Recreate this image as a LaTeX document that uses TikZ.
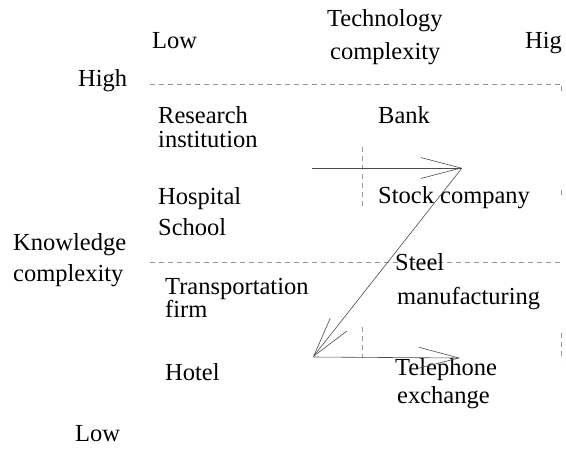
\documentclass[tikz,border=0pt]{standalone}
\usepackage{fontspec}
\setmainfont{Liberation Serif}
\usetikzlibrary{arrows.meta}
\begin{document}
\begin{tikzpicture}[x=1pt,y=-1pt,
  lbl/.style={anchor=base west,inner sep=0pt,font=\fontsize{24.5}{30}\selectfont},
  gridline/.style={draw=black!40,line width=0.6pt,dash pattern=on 5pt off 4pt},
  flow/.style={draw=black!70,line width=0.6pt,
    -{Straight Barb[length=40pt,width=21pt,line width=0.6pt]}}]
\useasboundingbox (0,0) rectangle (566,451);

% axis labels
\node[lbl] (tech1) at (327,26) {Technology};
\node[lbl] (tech2) at (330,59) {complexity};
\node[lbl] (tlow)  at (152,48) {Low};
\node[lbl] (thigh) at (525,48) {Hig};
\node[lbl] (khigh) at (78,86) {High};
\node[lbl] (know1) at (13,250) {Knowledge};
\node[lbl] (know2) at (13,281) {complexity};
\node[lbl] (klow)  at (75,441) {Low};

% quadrant grid
\draw[gridline] (150,84) -- (560,84);
\draw[gridline] (150,262) -- (560,262);
\draw[gridline] (362,147) -- (362,207);
\draw[gridline] (362,327) -- (362,358);
\draw[gridline] (561,86) -- (561,94);
\draw[gridline] (561,190) -- (561,196);
\draw[gridline] (561,333) -- (561,360);

% organisations
\node[lbl] (res1)  at (158,123) {Research};
\node[lbl] (res2)  at (158,147) {institution};
\node[lbl] (bank)  at (378,123) {Bank};
\node[lbl] (hosp)  at (158,204) {Hospital};
\node[lbl] (school) at (158,235) {School};
\node[lbl] (stock) at (378,203) {Stock company};
\node[lbl] (trans1) at (165,294) {Transportation};
\node[lbl] (trans2) at (165,317) {firm};
\node[lbl] (steel1) at (395,270) {Steel};
\node[lbl] (steel2) at (397,304) {manufacturing};
\node[lbl] (hotel) at (165,380) {Hotel};
\node[lbl] (tel1)  at (395,375) {Telephone};
\node[lbl] (tel2)  at (397,403) {exchange};

% Z-shaped path of development
\coordinate (a1) at (312,168);
\coordinate (a2) at (462,168);
\coordinate (b1) at (313,357);
\coordinate (b2) at (460,358);
\draw[flow] (a1) -- (a2);
\draw[flow] (a2) -- (b1);
\draw[flow] (b1) -- (b2);
\end{tikzpicture}
\end{document}
